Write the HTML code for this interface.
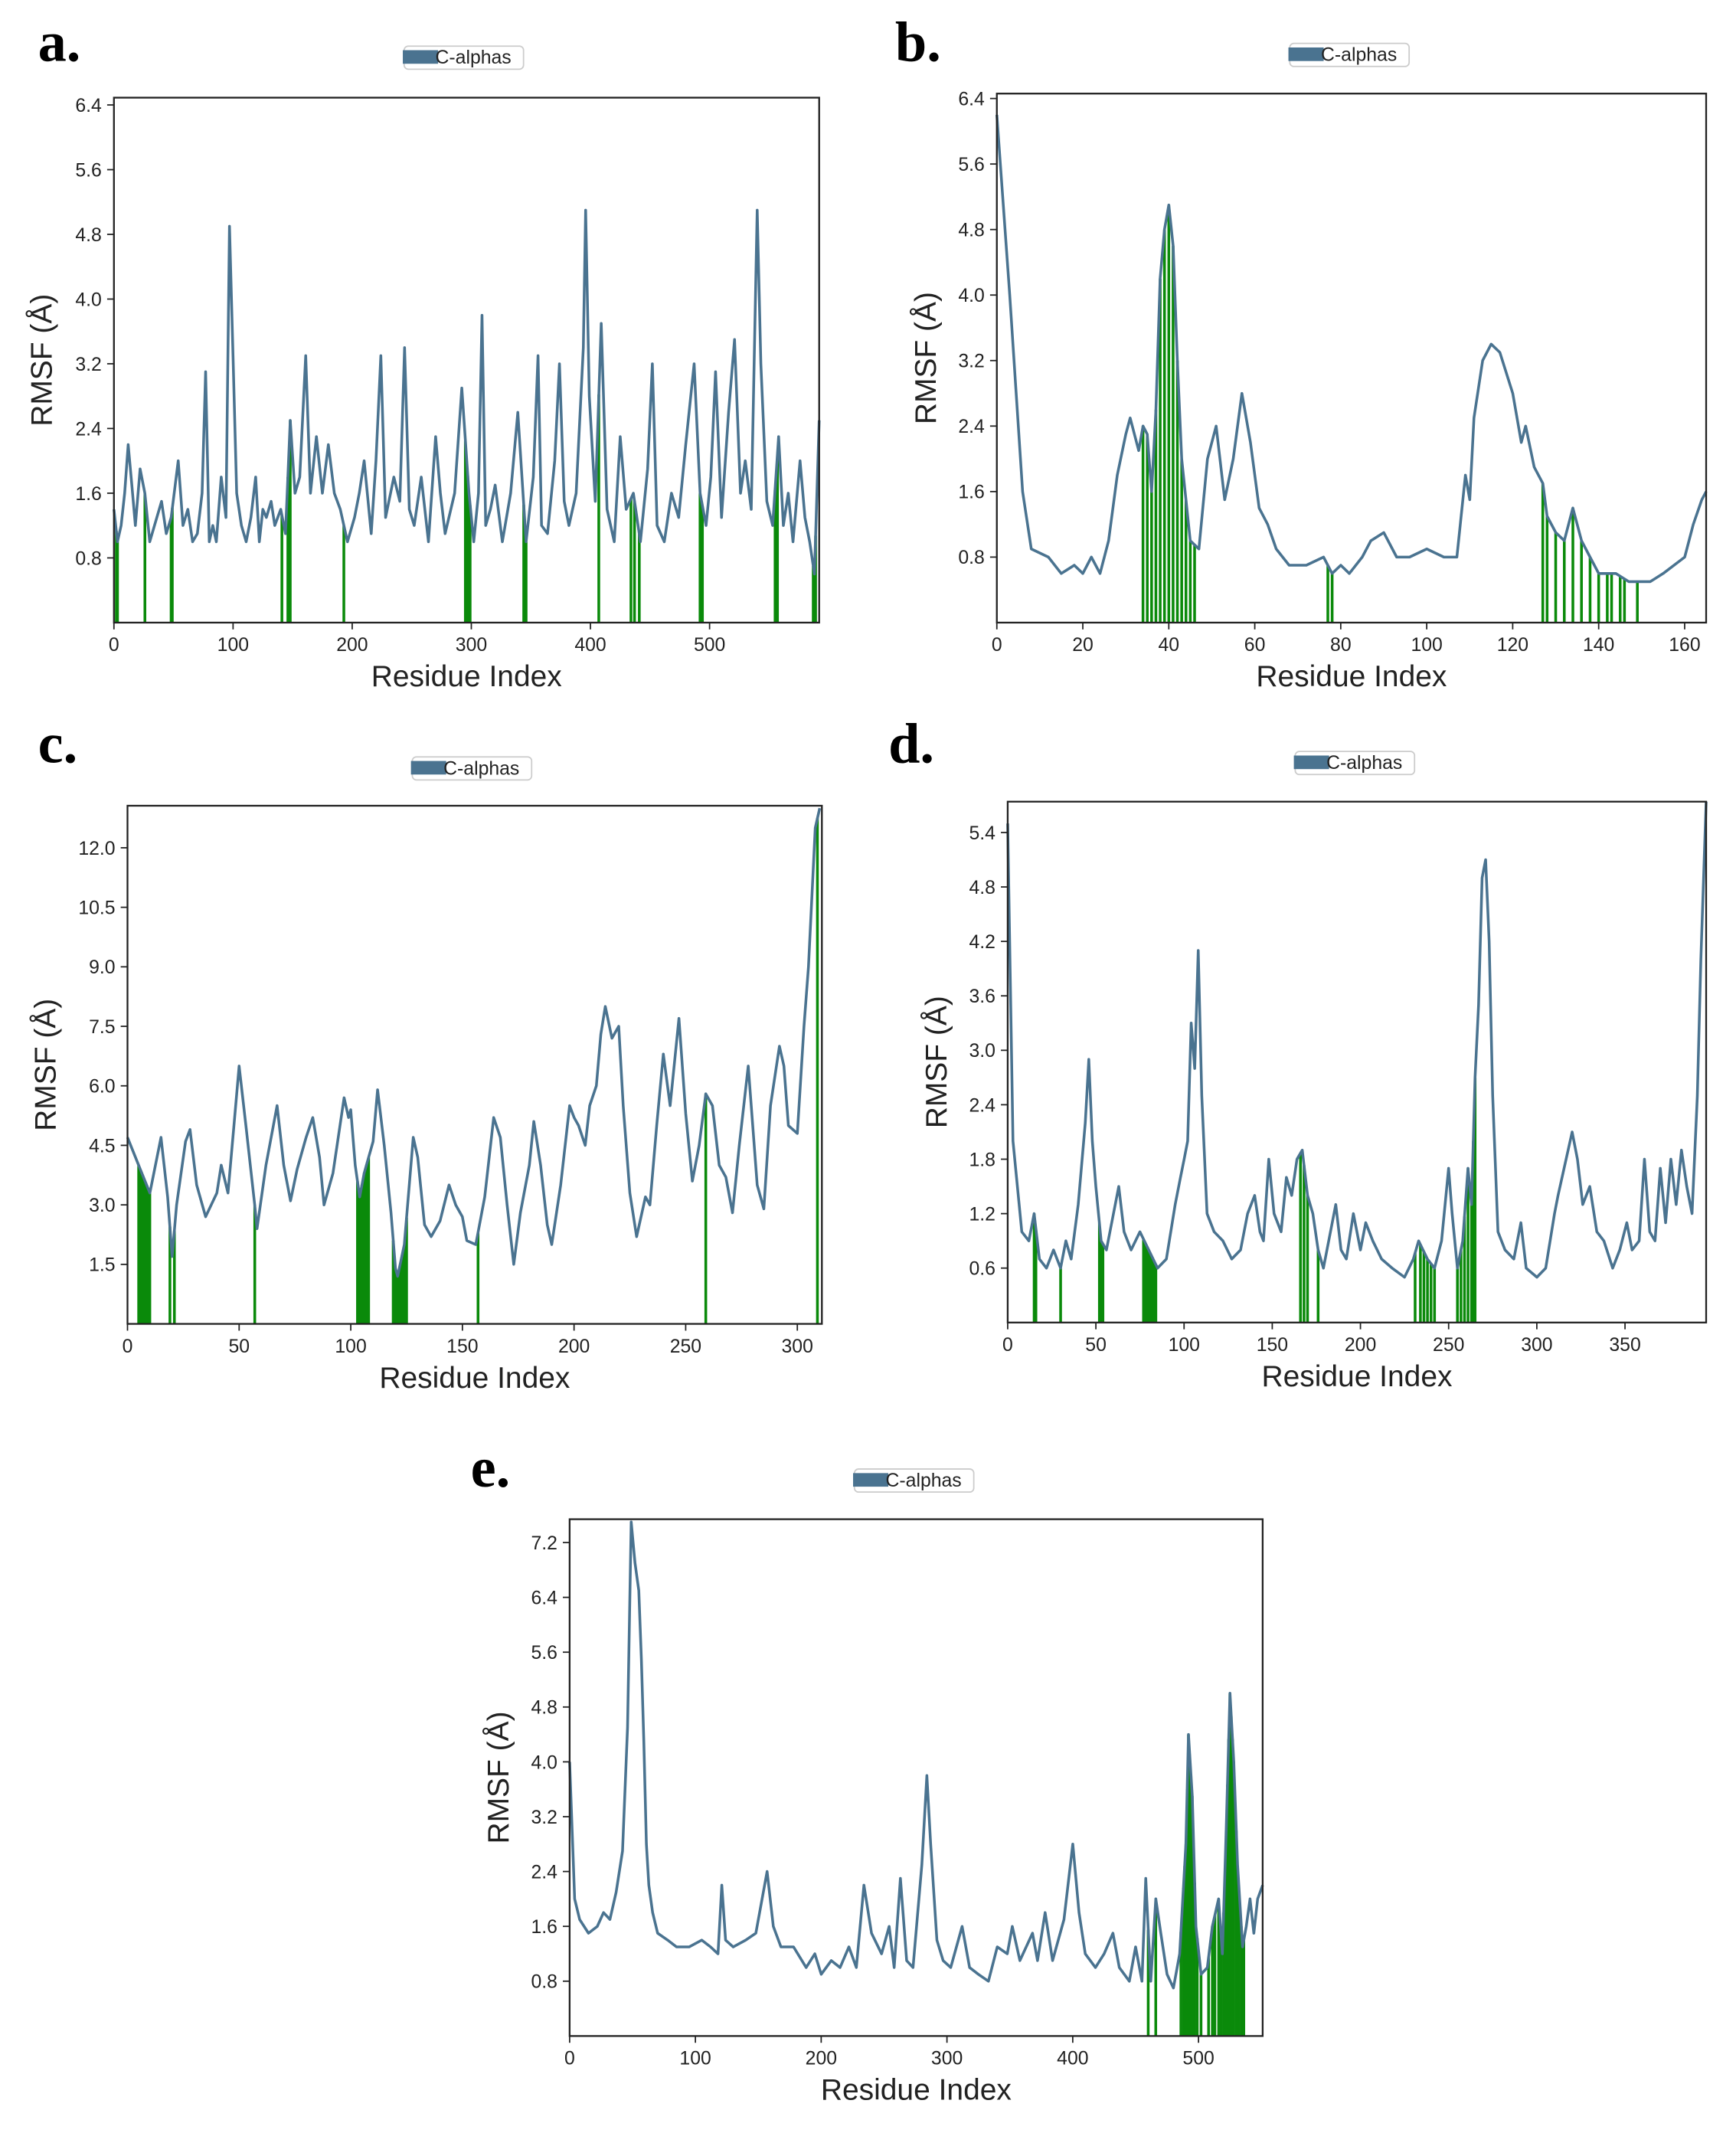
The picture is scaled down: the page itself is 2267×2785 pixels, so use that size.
<!DOCTYPE html>
<html><head><meta charset="utf-8"><style>
html,body{margin:0;padding:0;background:#fff;}
svg{display:block;}
text{font-family:"Liberation Sans","DejaVu Sans",sans-serif;}
text.plabel{font-family:"Liberation Serif","DejaVu Serif",serif;font-weight:bold;}
</style></head><body>
<svg id="fig" xmlns="http://www.w3.org/2000/svg" width="2267" height="2785" viewBox="0 0 1280 1572.5"></svg>
<script>
// ---------- Panel a ----------
const aRes=[0,3,6,9,12,15,18,22,26,30,34,40,44,48,54,58,62,66,70,74,77,80,83,86,90,94,97,100,103,107,111,115,119,122,125,128,132,135,140,144,148,152,156,161,165,170,175,180,185,190,196,202,206,210,216,220,224,228,235,240,244,248,252,258,264,270,274,278,286,292,298,302,306,309,312,316,320,326,333,339,346,352,356,359,364,370,374,378,382,388,394,396,399,404,409,414,420,425,430,436,442,448,452,456,462,468,474,480,487,492,497,501,505,510,516,521,526,530,535,540,543,548,553,558,562,566,570,576,580,584,588,592];
const aVal=[1.4,1.0,1.2,1.6,2.2,1.7,1.2,1.9,1.6,1.0,1.2,1.5,1.1,1.3,2.0,1.2,1.4,1.0,1.1,1.6,3.1,1.0,1.2,1.0,1.8,1.3,4.9,3.3,1.6,1.2,1.0,1.3,1.8,1.0,1.4,1.3,1.5,1.2,1.4,1.1,2.5,1.6,1.8,3.3,1.6,2.3,1.6,2.2,1.6,1.4,1.0,1.3,1.6,2.0,1.1,2.0,3.3,1.3,1.8,1.5,3.4,1.4,1.2,1.8,1.0,2.3,1.6,1.1,1.6,2.9,1.6,1.0,1.6,3.8,1.2,1.4,1.7,1.0,1.6,2.6,1.0,1.8,3.3,1.2,1.1,2.0,3.2,1.5,1.2,1.6,3.4,5.1,2.8,1.5,3.7,1.4,1.0,2.3,1.4,1.6,1.0,1.9,3.2,1.2,1.0,1.6,1.3,2.2,3.2,1.6,1.2,1.8,3.1,1.3,2.6,3.5,1.6,2.0,1.4,5.1,3.2,1.5,1.2,2.3,1.2,1.6,1.0,2.0,1.3,1.0,0.6,2.5];
const aGreen=[2,3,26,48,49,141,146,148,193,295,297,299,344,346,407,434,437,441,492,494,555,557,587,589];
// ---------- Panel b ----------
const bRes=[0,3,6,8,12,15,18,20,22,24,26,28,30,31,33,34,35,36,37,38,39,40,41,42,43,45,47,49,51,53,55,57,59,61,63,65,68,72,76,78,80,82,85,87,90,93,96,100,104,107,109,110,111,113,115,117,120,122,123,125,127,128,130,132,134,136,138,140,144,147,152,155,160,162,164,165];
const bVal=[6.2,4.0,1.6,0.9,0.8,0.6,0.7,0.6,0.8,0.6,1.0,1.8,2.3,2.5,2.1,2.4,2.3,1.6,2.6,4.2,4.8,5.1,4.6,3.2,2.0,1.0,0.9,2.0,2.4,1.5,2.0,2.8,2.2,1.4,1.2,0.9,0.7,0.7,0.8,0.6,0.7,0.6,0.8,1.0,1.1,0.8,0.8,0.9,0.8,0.8,1.8,1.5,2.5,3.2,3.4,3.3,2.8,2.2,2.4,1.9,1.7,1.3,1.1,1.0,1.4,1.0,0.8,0.6,0.6,0.5,0.5,0.6,0.8,1.2,1.5,1.6];
const bGreen=[34,35,36,37,38,39,40,41,42,43,44,45,46,77,78,127,128,130,132,134,136,138,140,142,143,145,146,149];
// ---------- Panel c ----------
const cRes=[0,5,10,15,18,20,22,26,28,31,35,40,42,45,48,50,53,57,58,62,67,70,73,76,80,83,86,88,92,97,99,100,102,104,106,110,112,115,118,120,121,124,128,130,133,136,140,144,147,150,152,156,160,164,167,170,173,176,180,182,185,188,190,194,198,200,202,205,207,210,212,214,217,220,222,225,228,232,234,237,240,243,247,250,253,256,259,262,265,268,271,274,278,282,285,288,292,294,296,300,303,305,308,310];
const cVal=[4.7,4.0,3.3,4.7,3.2,1.7,3.0,4.6,4.9,3.5,2.7,3.3,4.0,3.3,5.2,6.5,5.0,3.0,2.4,4.0,5.5,4.0,3.1,3.9,4.7,5.2,4.2,3.0,3.8,5.7,5.2,5.4,4.0,3.2,3.8,4.6,5.9,4.5,2.8,1.4,1.2,2.0,4.7,4.2,2.5,2.2,2.6,3.5,3.0,2.7,2.1,2.0,3.2,5.2,4.7,3.0,1.5,2.8,4.0,5.1,4.0,2.5,2.0,3.5,5.5,5.2,5.0,4.5,5.5,6.0,7.3,8.0,7.2,7.5,5.5,3.3,2.2,3.2,3.0,5.0,6.8,5.5,7.7,5.3,3.6,4.5,5.8,5.5,4.0,3.7,2.8,4.5,6.5,3.5,2.9,5.5,7.0,6.5,5.0,4.8,7.5,9.0,12.5,13.0];
const cGreen=[5,6,7,8,9,10,19,21,57,103,104,105,106,107,108,119,120,121,122,123,124,125,157,259,309];
// ---------- Panel d ----------
const dRes=[0,3,8,12,15,18,22,26,30,33,36,40,44,46,48,50,53,56,60,63,66,70,75,80,85,90,95,98,100,102,104,106,108,110,113,117,122,127,132,136,140,143,145,148,151,155,158,161,164,167,170,173,176,179,182,186,189,192,196,200,203,207,212,218,225,230,233,238,242,246,250,252,255,258,261,263,265,267,269,271,273,275,278,282,287,291,294,300,305,310,312,320,323,326,330,334,338,343,347,351,354,358,361,364,367,370,373,376,379,382,385,388,391,393,396];
const dVal=[5.5,2.0,1.0,0.9,1.2,0.7,0.6,0.8,0.6,0.9,0.7,1.3,2.2,2.9,2.0,1.5,0.9,0.8,1.2,1.5,1.0,0.8,1.0,0.8,0.6,0.7,1.3,1.6,1.8,2.0,3.3,2.8,4.1,2.5,1.2,1.0,0.9,0.7,0.8,1.2,1.4,1.0,0.9,1.8,1.2,1.0,1.6,1.4,1.8,1.9,1.4,1.2,0.8,0.6,0.9,1.3,0.8,0.7,1.2,0.8,1.1,0.9,0.7,0.6,0.5,0.7,0.9,0.7,0.6,0.9,1.7,1.2,0.6,0.9,1.7,1.3,2.7,3.5,4.9,5.1,4.2,2.5,1.0,0.8,0.7,1.1,0.6,0.5,0.6,1.2,1.4,2.1,1.8,1.3,1.5,1.0,0.9,0.6,0.8,1.1,0.8,0.9,1.8,1.0,0.9,1.7,1.1,1.8,1.3,1.9,1.5,1.2,2.5,4.0,5.8];
const dGreen=[15,16,30,52,53,54,77,78,79,80,81,82,83,84,166,168,170,176,231,234,236,238,240,242,255,257,259,261,263,264,265];
// ---------- Panel e ----------
const eRes=[0,4,8,15,22,27,32,37,42,46,49,52,55,57,59,61,63,66,70,78,85,95,105,112,118,121,124,130,140,148,157,162,168,178,188,195,200,208,215,222,228,234,240,248,254,258,263,268,273,280,284,287,292,297,303,312,318,325,333,340,348,352,358,368,372,378,384,393,400,405,410,418,425,432,437,445,450,455,458,462,466,470,475,480,485,490,492,495,498,502,507,511,516,519,522,525,528,531,535,538,541,544,547,551];
const eVal=[4.0,2.0,1.7,1.5,1.6,1.8,1.7,2.1,2.7,4.5,7.5,6.9,6.5,5.5,4.3,2.8,2.2,1.8,1.5,1.4,1.3,1.3,1.4,1.3,1.2,2.2,1.4,1.3,1.4,1.5,2.4,1.6,1.3,1.3,1.0,1.2,0.9,1.1,1.0,1.3,1.0,2.2,1.5,1.2,1.6,1.0,2.3,1.1,1.0,2.5,3.8,2.8,1.4,1.1,1.0,1.6,1.0,0.9,0.8,1.3,1.2,1.6,1.1,1.5,1.1,1.8,1.1,1.7,2.8,1.8,1.2,1.0,1.2,1.5,1.0,0.8,1.3,0.8,2.3,0.8,2.0,1.5,0.9,0.7,1.2,2.8,4.4,3.5,1.6,0.9,1.0,1.6,2.0,1.2,3.0,5.0,4.0,2.5,1.3,1.6,2.0,1.5,2.0,2.2];
const eGreen=[460,466,486,488,489,490,491,492,493,494,495,497,499,502,508,511,513,516,518,520,522,523,524,525,526,527,528,530,532,534,536];

// tick label arrays
const aXT=[0,100,200,300,400,500], aYT=[0.8,1.6,2.4,3.2,4.0,4.8,5.6,6.4];
const bXT=[0,20,40,60,80,100,120,140,160], bYT=[0.8,1.6,2.4,3.2,4.0,4.8,5.6,6.4];
const cXT=[0,50,100,150,200,250,300], cYT=[1.5,3.0,4.5,6.0,7.5,9.0,10.5,12.0];
const dXT=[0,50,100,150,200,250,300,350], dYT=[0.6,1.2,1.8,2.4,3.0,3.6,4.2,4.8,5.4];
const eXT=[0,100,200,300,400,500], eYT=[0.8,1.6,2.4,3.2,4.0,4.8,5.6,6.4,7.2];

const NS='http://www.w3.org/2000/svg';
const svg=document.getElementById('fig');
function mk(tag,attrs,parent){const e=document.createElementNS(NS,tag);for(const k in attrs)e.setAttribute(k,attrs[k]);(parent||svg).appendChild(e);return e;}
function interp(rs,vs,r){if(r<=rs[0])return vs[0];for(let i=1;i<rs.length;i++){if(r<=rs[i]){const t=(r-rs[i-1])/(rs[i]-rs[i-1]);return vs[i-1]+t*(vs[i]-vs[i-1]);}}return vs[vs.length-1];}

const panels=[
 {id:'a',L:84,R:604,T:72,B:459,xmax:592,ymax:6.49,res:aRes,val:aVal,g:aGreen,xt:aXT,yt:aYT,lx:28,ly:45,legx:342,legy:42,ylx:38},
 {id:'b',L:735,R:1258,T:69,B:459,xmax:165,ymax:6.46,res:bRes,val:bVal,g:bGreen,xt:bXT,yt:bYT,lx:660,ly:45,legx:995,legy:40,ylx:690},
 {id:'c',L:94,R:606,T:594,B:976,xmax:311,ymax:13.06,res:cRes,val:cVal,g:cGreen,xt:cXT,yt:cYT,lx:28,ly:562,legx:348,legy:566,ylx:41},
 {id:'d',L:743,R:1258,T:591,B:975,xmax:396,ymax:5.74,res:dRes,val:dVal,g:dGreen,xt:dXT,yt:dYT,lx:655,ly:562,legx:999,legy:562,ylx:698},
 {id:'e',L:420,R:931,T:1120,B:1501,xmax:551,ymax:7.54,res:eRes,val:eVal,g:eGreen,xt:eXT,yt:eYT,lx:347,ly:1096,legx:674,legy:1091,ylx:375}
];

panels.forEach(p=>{
 const g=mk('g',{});
 
 
 const X=r=>p.L+(r/p.xmax)*(p.R-p.L);
 const Y=v=>p.B-(v/p.ymax)*(p.B-p.T);
 const lab=mk('text',{x:p.lx,y:p.ly,'font-size':42,'class':'plabel'},g);
 lab.textContent=p.id+'.';
 
 
 const lg=mk('g',{},g);
 
 
 mk('rect',{x:p.legx-44,y:p.legy-8,width:88,height:17,rx:3,fill:'#fff',stroke:'#ccc','stroke-width':1},lg);
 mk('rect',{x:p.legx-45,y:p.legy-5,width:26,height:10,fill:'#4a7390'},lg);
 const lt=mk('text',{x:p.legx-21,y:p.legy+5,'font-size':14,fill:'#222'},lg);
 lt.textContent='C-alphas';
 p.g.forEach(r=>{
  const v=interp(p.res,p.val,r);
  const ln=mk('line',{x1:X(r),x2:X(r),y1:p.B,y2:Y(v),stroke:'#0a8a0a','stroke-width':2},g);
  
  
 });
 const pts=p.res.map((r,i)=>X(r).toFixed(1)+','+Math.max(p.T,Y(p.val[i])).toFixed(1)).join(' ');
 const pl=mk('polyline',{points:pts,fill:'none',stroke:'#4a7390','stroke-width':2,'stroke-linejoin':'round'},g);
 
 
 const fr=mk('rect',{x:p.L,y:p.T,width:p.R-p.L,height:p.B-p.T,fill:'none',stroke:'#222','stroke-width':1.3},g);
 
 
 p.xt.forEach(t=>{
  mk('line',{x1:X(t),x2:X(t),y1:p.B,y2:p.B+5,stroke:'#222','stroke-width':1},g);
  const tx=mk('text',{x:X(t),y:p.B+21,'font-size':14,'text-anchor':'middle',fill:'#222'},g);
  tx.textContent=t;
  
  
 });
 p.yt.forEach(t=>{
  mk('line',{x1:p.L-5,x2:p.L,y1:Y(t),y2:Y(t),stroke:'#222','stroke-width':1},g);
  const ty=mk('text',{x:p.L-9,y:Y(t)+5,'font-size':14,'text-anchor':'end',fill:'#222'},g);
  ty.textContent=t.toFixed(1);
  
  
 });
 const xl=mk('text',{x:(p.L+p.R)/2,y:p.B+47,'font-size':22,'text-anchor':'middle',fill:'#222'},g);
 xl.textContent='Residue Index';
 
 
 const yc=(p.T+p.B)/2;
 const yl=mk('text',{x:p.ylx,y:yc,'font-size':22,'text-anchor':'middle',fill:'#222',transform:'rotate(-90 '+p.ylx+' '+yc+')'},g);
 yl.textContent='RMSF (Å)';
 
 
});
</script>
</body></html>
